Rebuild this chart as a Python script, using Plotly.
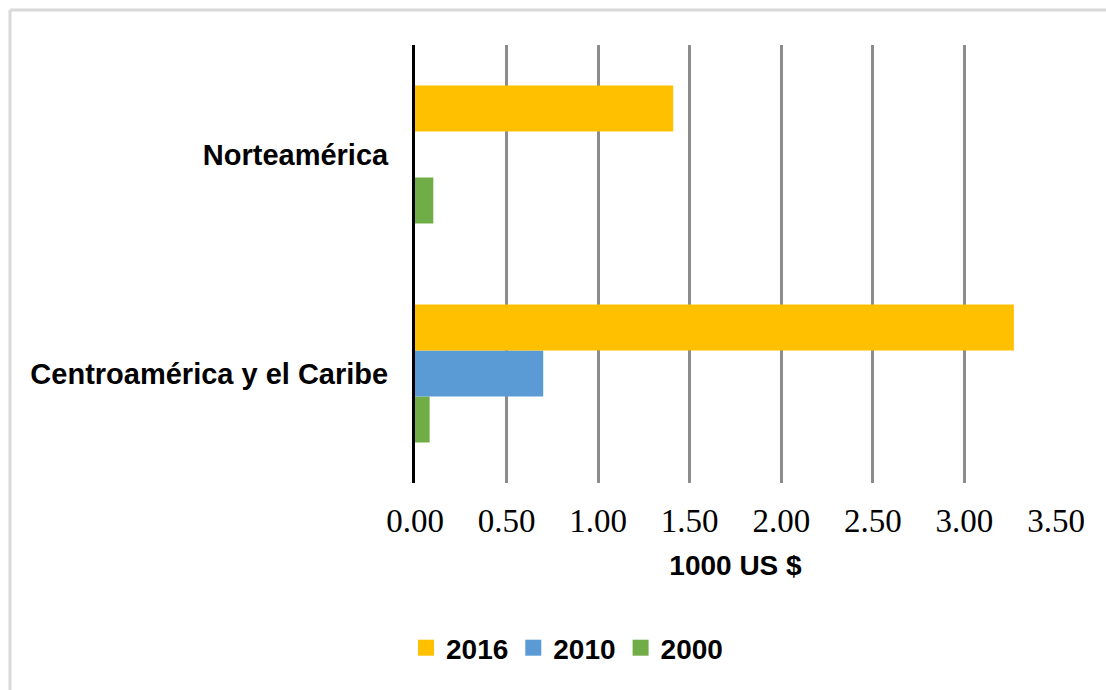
import plotly.graph_objects as go

# ---- data ----
categories = ["Centroamérica y el Caribe", "Norteamérica"]
years = ["2000", "2010", "2016"]
values_2000 = [0.08, 0.10]
values_2010 = [0.70, 0.0]
values_2016 = [3.27, 1.41]
series_values = {"2000": values_2000, "2010": values_2010, "2016": values_2016}
bar_colors = {"2016": "#FFC000", "2010": "#5B9BD5", "2000": "#70AD47"}
x_tick_vals = [0, 0.5, 1.0, 1.5, 2.0, 2.5, 3.0, 3.5]
x_title = "1000 US $"

# ---- layout geometry ----
W, H = 1106, 690
ML, MR, MT, MB = 415, 50, 45, 207
PW = W - ML - MR
PH = H - MT - MB


def px_to_paper_x(px):
    return (px - ML) / PW


def px_to_paper_y(py):
    return (H - MB - py) / PH


fig = go.Figure()
for yr in years:
    fig.add_trace(go.Bar(
        y=categories,
        x=series_values[yr],
        name=yr,
        orientation="h",
        marker=dict(color=bar_colors[yr], line=dict(width=0)),
        showlegend=False,
    ))

# legend entries with larger square swatches
for yr in reversed(years):
    fig.add_trace(go.Scatter(
        x=[None], y=[None], mode="markers", name=yr,
        marker=dict(symbol="square", size=16, color=bar_colors[yr]),
        showlegend=True, hoverinfo="skip",
    ))

border = dict(color="#d9d9d9", width=3)

fig.update_layout(
    width=W, height=H,
    margin=dict(l=ML, r=MR, t=MT, b=MB, pad=0),
    paper_bgcolor="white",
    plot_bgcolor="white",
    barmode="group",
    bargap=0.37,
    bargroupgap=0,
    showlegend=True,
    legend=dict(
        orientation="h",
        x=px_to_paper_x(567), xanchor="center",
        y=px_to_paper_y(648), yanchor="middle",
        font=dict(family="Liberation Sans, Arial", size=28, color="black", weight="bold"),
        bgcolor="rgba(0,0,0,0)",
        itemwidth=30,
        itemsizing="trace",
    ),
    xaxis=dict(
        range=[0, 3.5],
        tickvals=x_tick_vals,
        tickformat=".2f",
        showgrid=True,
        gridcolor="#8c8c8c",
        gridwidth=2.5,
        zeroline=False,
        showline=False,
        ticks="",
        ticklabelstandoff=15,
        tickfont=dict(family="Liberation Serif, Times New Roman", size=33, color="black"),
        title=dict(text=x_title, standoff=17,
                   font=dict(family="Liberation Sans, Arial", size=28, color="black", weight="bold")),
        fixedrange=True,
    ),
    yaxis=dict(
        showgrid=False,
        zeroline=False,
        showline=True,
        linecolor="black",
        linewidth=3,
        ticks="",
        ticklabelstandoff=18,
        tickfont=dict(family="Liberation Sans, Arial", size=29, color="black", weight="bold"),
        fixedrange=True,
    ),
    shapes=[
        dict(type="line", xref="paper", yref="paper",
             x0=px_to_paper_x(10), x1=px_to_paper_x(W + 20),
             y0=px_to_paper_y(10), y1=px_to_paper_y(10),
             line=border, layer="below"),
        dict(type="line", xref="paper", yref="paper",
             x0=px_to_paper_x(10), x1=px_to_paper_x(10),
             y0=px_to_paper_y(10), y1=px_to_paper_y(H + 20),
             line=border, layer="below"),
    ],
)

fig.write_html(
    "out.html",
    config={"displayModeBar": False},
    post_script=(
        "document.body.style.margin='0';"
        "document.body.style.overflow='hidden';"
        "document.documentElement.style.overflow='hidden';"
    ),
)
